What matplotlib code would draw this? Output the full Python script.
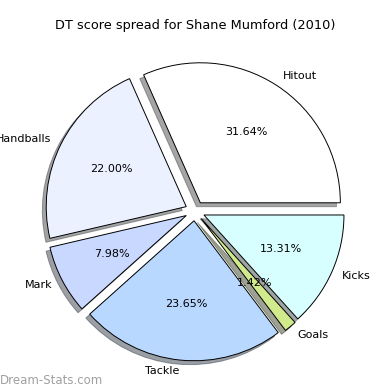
import matplotlib
matplotlib.use("Agg")
import matplotlib.pyplot as plt

categories = ["Hitout", "Handballs", "Mark", "Tackle", "Goals", "Kicks"]
values = [31.64, 22.00, 7.98, 23.65, 1.42, 13.31]
colors = ["#ffffff", "#ebf1ff", "#c8d8ff", "#b8d8ff", "#d0ea8c", "#d8ffff"]

fig = plt.figure(figsize=(3.9, 3.9), dpi=100)
ax = fig.add_axes([20/390, 4/390, 350/390, 350/390])
ax.pie(values, labels=categories, colors=colors, explode=[0.07]*len(values),
       autopct="%1.2f%%", shadow=True, startangle=0, labeldistance=1.08,
       wedgeprops=dict(edgecolor="black", linewidth=0.7),
       textprops=dict(fontsize=8))
ax.set_xlim(-1.25, 1.25)
ax.set_ylim(-1.25, 1.25)
fig.text(0.5, 1 - 25/390, "DT score spread for Shane Mumford (2010)",
         ha="center", va="center", fontsize=9.3)
fig.text(0, 10/390, "Dream-Stats.com", ha="left", va="center",
         fontsize=8.5, color="#a0a0a0")
fig.savefig("out.png", dpi=100)
